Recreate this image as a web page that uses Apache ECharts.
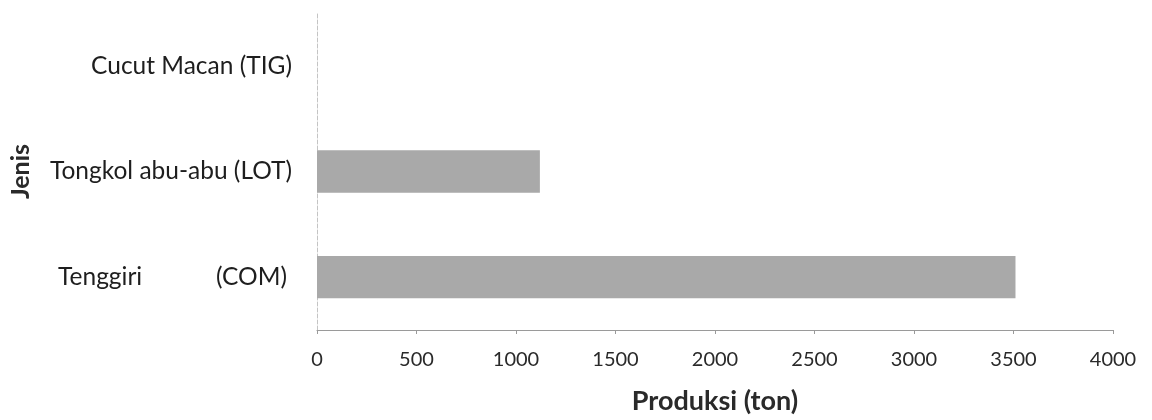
<!DOCTYPE html>
<html><head><meta charset="utf-8">
<script src="https://cdn.jsdelivr.net/npm/echarts@6/dist/echarts.min.js"></script>
<style>html,body{margin:0;padding:0;background:#fff}#c{width:1152px;height:420px}</style>
</head><body><div id="c"></div>
<script>
const categories = ["Tenggiri (COM)", "Tongkol abu-abu (LOT)", "Cucut Macan (TIG)"];
const production = [3510, 1120, 0];
const xTicks = [0, 500, 1000, 1500, 2000, 2500, 3000, 3500, 4000];
const xName = "Produksi (ton)";
const yName = "Jenis";

const FONT = "Lato";
const chart = echarts.init(document.getElementById('c'), null, {renderer: 'canvas'});
chart.setOption({
  animation: false,
  backgroundColor: '#ffffff',
  grid: {left: 313, right: 39, top: 13, bottom: 85, containLabel: false},
  xAxis: {
    type: 'value', min: xTicks[0], max: xTicks[xTicks.length - 1], interval: 500,
    name: xName, nameLocation: 'middle', nameGap: 58,
    nameTextStyle: {fontFamily: FONT, fontSize: 27, fontWeight: 'bold', color: '#2a2a2a'},
    axisLine: {show: true, lineStyle: {color: '#9a9a9a', width: 1}},
    axisTick: {show: true, length: 4, lineStyle: {color: '#9a9a9a'}},
    splitLine: {show: false},
    axisLabel: {fontFamily: FONT, fontSize: 20, color: '#2a2a2a', margin: 20,
      formatter: function (v) { return String(v); }}
  },
  yAxis: {
    type: 'category', data: categories,
    name: yName, nameLocation: 'middle', nameGap: 284, nameRotate: 90,
    nameTextStyle: {fontFamily: FONT, fontSize: 25, fontWeight: 'bold', color: '#2a2a2a'},
    axisLine: {show: true, lineStyle: {color: '#c4c4c4', width: 1, type: 'dashed'}},
    axisTick: {show: false},
    splitLine: {show: false},
    axisLabel: {
      fontFamily: FONT, fontSize: 24.5, color: '#1e1e1e', margin: 25,
      formatter: function (v) {
        if (v === "Tenggiri (COM)") return '{a|Tenggiri}{b|(COM)}';
        return v;
      },
      rich: {
        a: {fontFamily: FONT, fontSize: 24.5, color: '#1e1e1e', width: 158, align: 'left'},
        b: {fontFamily: FONT, fontSize: 24.5, color: '#1e1e1e', padding: [0, 5, 0, 0]}
      }
    }
  },
  series: [{
    type: 'bar', data: production, barWidth: '40%',
    itemStyle: {color: '#a9a9a9'}
  }]
});
</script></body></html>
